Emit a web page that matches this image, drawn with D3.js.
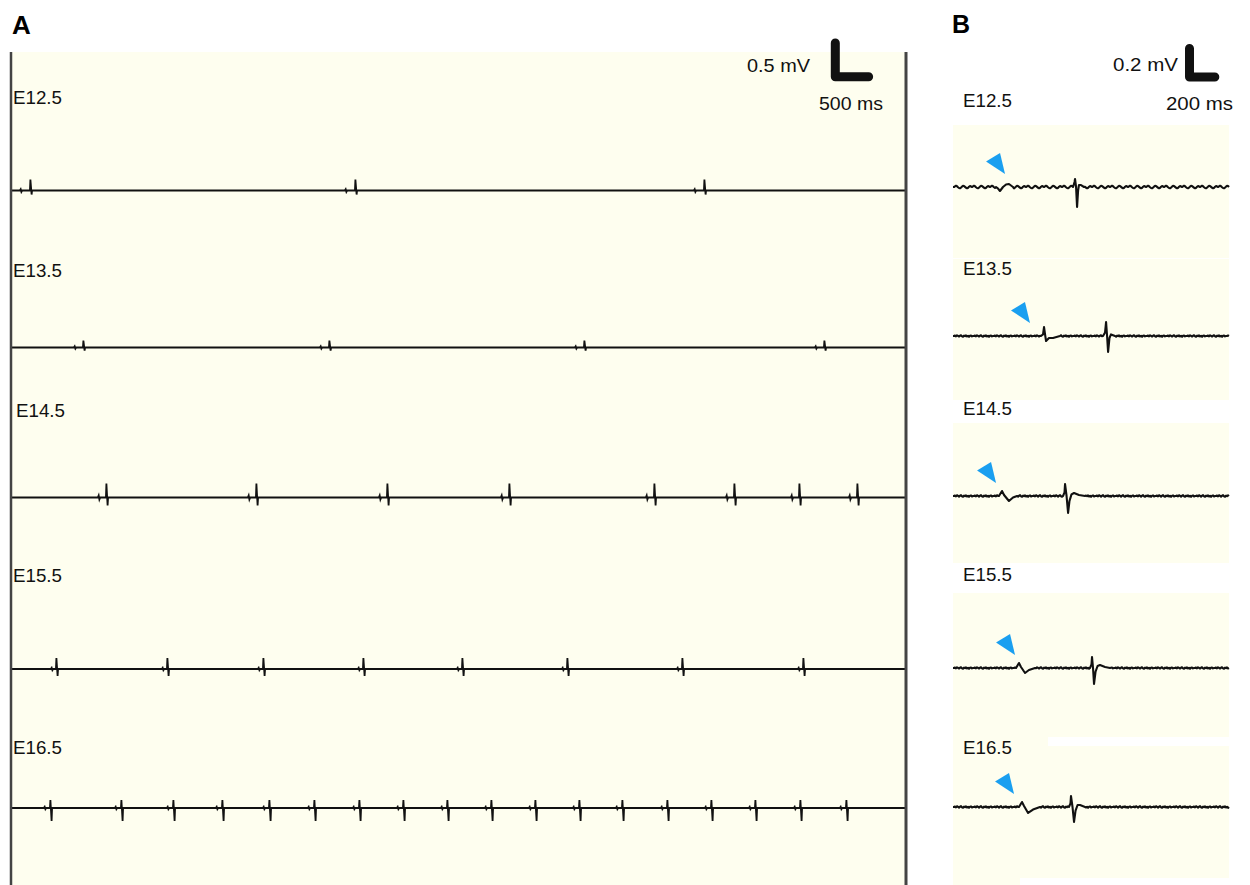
<!DOCTYPE html>
<html>
<head>
<meta charset="utf-8">
<script src="https://cdn.jsdelivr.net/npm/d3@7"></script>
<style>
  body { margin: 0; background: #fff; }
  svg { display: block; font-family: "Liberation Sans", Arial, sans-serif; }
</style>
</head>
<body>
<div id="chart"></div>
<script>
// one ECG strip per embryonic stage
const stages = ['E12.5', 'E13.5', 'E14.5', 'E15.5', 'E16.5'];

// panel A: QRS spike times (ms) along the long strips
const beatsA = [
  [300, 5175, 10410],
  [1095, 4785, 8610, 12210],
  [1440, 3690, 5655, 7485, 9660, 10860, 11835, 12705],
  [690, 2355, 3795, 5295, 6780, 8355, 10080, 11895],
  [600, 1665, 2445, 3180, 3885, 4560, 5235, 5895, 6555, 7215, 7875, 8535, 9180, 9855, 10515, 11175, 11850, 12540]
];
const spikeUpA = [0.163, 0.104, 0.208, 0.163, 0.119];   // mV
const spikeDownA = [0.06, 0.045, 0.119, 0.104, 0.193];  // mV
const pWaveA = [0.02, 0.018, 0.03, 0.018, 0.018];       // mV
const pLeadA = [150, 135, 120, 75, 90];                 // ms before the spike
const spanA = 13425;                                    // ms shown in panel A

// panel B: one beat per stage, [ms, mV] key points
const traceB = [
  [[0, 0], [340, 0], [356, -0.011], [371, -0.028], [395, 0], [419, 0.018], [442, 0.021], [474, 0],
   [948, 0], [960, 0.035], [964, 0.056], [972, 0], [980, -0.14], [988, -0.025], [995, 0.014], [1011, 0.014], [1035, 0], [2180, 0]],
  [[0, 0], [695, 0], [711, 0.011], [719, 0.063], [727, 0.011], [735, -0.035], [758, -0.014], [790, -0.014], [845, 0],
   [1185, 0], [1201, 0.025], [1209, 0.098], [1217, 0], [1225, -0.112], [1236, -0.014], [1248, 0.011], [1280, 0], [2180, 0]],
  [[0, 0], [363, 0], [387, 0.035], [403, 0.007], [442, -0.035], [474, -0.011], [506, 0],
   [869, 0], [881, 0.025], [885, 0.084], [897, 0], [909, -0.119], [920, -0.035], [936, 0.011], [956, 0.021], [995, 0.007], [1043, 0], [2180, 0]],
  [[0, 0], [498, 0], [521, 0.035], [537, 0.007], [569, -0.035], [600, -0.014], [648, 0],
   [1082, 0], [1094, 0.025], [1098, 0.077], [1106, 0], [1114, -0.112], [1126, -0.025], [1142, 0.014], [1161, 0.021], [1201, 0.007], [1240, 0], [2180, 0]],
  [[0, 0], [521, 0], [545, 0.035], [561, 0.007], [593, -0.042], [632, -0.018], [687, 0],
   [916, 0], [928, 0.025], [932, 0.077], [944, 0], [956, -0.105], [968, -0.025], [984, 0.014], [1003, 0.014], [1043, 0], [2180, 0]]
];
const arrowB = [411, 608, 340, 490, 482];            // ms, where the blue arrowheads point (P wave)
const rippleB = [0, 0.5, 1, 0.6, -0.2, -0.8, -1, -0.5, 0.3, 0.9, 0.8, 0.1, -0.6, -1, -0.7, 0.2, 0.8, 0.4];
const jitterB = [0, 0.6, -0.4, 0.9, 0.1, -0.7, 0.3, 1, -0.3, -0.9, 0.5, -0.2, 0.8, -0.6, 0.2, -1, 0.4, 0.7, -0.5, 0];
const noiseB = [0.009, 0.0055, 0.006, 0.0055, 0.006]; // mV baseline noise per trace
const spanB = 2180;                                   // ms shown in panel B

// layout
const W = 1250, H = 885;
const cream = '#fefeef';
const ink = '#111';
const frameA = { x0: 11, x1: 906, y0: 52, y1: 885 };
const rowYA = [190.5, 347.5, 497.5, 669, 808];
const labelYA = [104, 277, 417, 582, 754];
const labelXA = [13, 13, 16, 13, 13];
const boxB = { x0: 953, x1: 1229 };
const stripsB = [[125, 258], [259, 400], [423, 563], [593, 740], [740, 885]];
const rowYB = [187, 336, 496, 668, 807];
const labelYB = [107, 275, 415, 581, 754];

const svg = d3.select('#chart').append('svg')
  .attr('width', W)
  .attr('height', H)
  .attr('viewBox', `0 0 ${W} ${H}`);

// scales
const xA = d3.scaleLinear().domain([0, spanA]).range([frameA.x0, frameA.x1]);
const yA = d3.scaleLinear().domain([-0.5, 0.5]).range([33.7, -33.7]);
const xB = d3.scaleLinear().domain([0, spanB]).range([boxB.x0, boxB.x1]);
const yB = d3.scaleLinear().domain([-0.2, 0.2]).range([28.5, -28.5]);

// ---------- panel A ----------
svg.append('rect')
  .attr('x', frameA.x0).attr('y', frameA.y0)
  .attr('width', frameA.x1 - frameA.x0).attr('height', frameA.y1 - frameA.y0)
  .attr('fill', cream);

const beatPoints = (i) => {
  const pts = [[0, 0]];
  const lead = pLeadA[i], p = pWaveA[i];
  beatsA[i].forEach(t => {
    pts.push([t - lead - 18, 0], [t - lead - 5, p], [t - lead + 6, -p], [t - lead + 18, 0]);
    pts.push([t - 16, 0], [t - 9, spikeUpA[i]], [t + 9, -spikeDownA[i]], [t + 16, 0]);
  });
  pts.push([spanA, 0]);
  return pts;
};

const lineA = d3.line().x(d => xA(d[0])).y(d => yA(d[1]));

stages.forEach((s, i) => {
  const g = svg.append('g').attr('transform', `translate(0, ${rowYA[i]})`);
  g.append('path')
    .attr('d', lineA(beatPoints(i)))
    .attr('fill', 'none')
    .attr('stroke', ink)
    .attr('stroke-width', 1.8);

  svg.append('text')
    .attr('x', labelXA[i]).attr('y', labelYA[i])
    .attr('font-size', 18)
    .attr('textLength', 49).attr('lengthAdjust', 'spacingAndGlyphs')
    .attr('fill', ink)
    .text(s);
});

svg.append('line')
  .attr('x1', frameA.x0).attr('x2', frameA.x0)
  .attr('y1', frameA.y0).attr('y2', frameA.y1)
  .attr('stroke', '#444').attr('stroke-width', 2.5);
svg.append('line')
  .attr('x1', frameA.x1).attr('x2', frameA.x1)
  .attr('y1', frameA.y0).attr('y2', frameA.y1)
  .attr('stroke', '#444').attr('stroke-width', 3);

// scale bar helper: vertical mV leg + horizontal ms leg from one corner
const scaleBar = (cx, cy, xs, ys, mv, ms) => {
  const h = ys(0) - ys(mv);
  const w = xs(ms) - xs(0);
  svg.append('path')
    .attr('d', `M${cx},${cy - h}L${cx},${cy}L${cx + w},${cy}`)
    .attr('fill', 'none')
    .attr('stroke', ink)
    .attr('stroke-width', 9)
    .attr('stroke-linecap', 'round')
    .attr('stroke-linejoin', 'round');
};

scaleBar(835.3, 76.7, xA, yA, 0.5, 500);
svg.append('text').attr('x', 747).attr('y', 72).attr('font-size', 18)
  .attr('textLength', 63).attr('lengthAdjust', 'spacingAndGlyphs').attr('fill', ink).text('0.5 mV');
svg.append('text').attr('x', 819).attr('y', 110).attr('font-size', 18)
  .attr('textLength', 64).attr('lengthAdjust', 'spacingAndGlyphs').attr('fill', ink).text('500 ms');

svg.append('text').attr('x', 12).attr('y', 34)
  .attr('font-size', 26).attr('font-weight', 'bold').attr('fill', '#000').text('A');

// ---------- panel B ----------
stripsB.forEach(([y0, y1]) => {
  svg.append('rect')
    .attr('x', boxB.x0).attr('y', y0)
    .attr('width', boxB.x1 - boxB.x0).attr('height', y1 - y0)
    .attr('fill', cream);
});
// white gaps the original cut-outs left in the last two strips
svg.append('rect').attr('x', 1048).attr('y', 737).attr('width', boxB.x1 - 1048).attr('height', 9).attr('fill', '#fff');
svg.append('rect').attr('x', 1020).attr('y', 878).attr('width', boxB.x1 - 1020).attr('height', 7).attr('fill', '#fff');

const stepB = xB.invert(boxB.x0 + 1) - xB.invert(boxB.x0); // one pixel of time
const lineB = d3.line().x(d => xB(d[0])).y(d => yB(d[1]));

const withNoise = (pts, i) => {
  const pattern = i === 0 ? rippleB : jitterB;
  const out = [];
  let k = 0;
  pts.forEach((d, j) => {
    out.push(d);
    const nxt = pts[j + 1];
    if (nxt && d[1] === 0 && nxt[1] === 0) {
      for (let t = d[0] + stepB; t < nxt[0] - stepB / 2; t += stepB) {
        out.push([t, pattern[k % pattern.length] * noiseB[i]]);
        k++;
      }
    }
  });
  return out;
};

stages.forEach((s, i) => {
  const g = svg.append('g').attr('transform', `translate(0, ${rowYB[i]})`);
  g.append('path')
    .attr('d', lineB(withNoise(traceB[i], i)))
    .attr('fill', 'none')
    .attr('stroke', ink)
    .attr('stroke-width', 2.1)
    .attr('stroke-linejoin', 'round');

  const tx = xB(arrowB[i]), ty = -13;
  g.append('path')
    .attr('d', `M${tx},${ty}L${tx - 19},${ty - 12.5}L${tx - 5},${ty - 21}Z`)
    .attr('fill', '#1a9ff0');

  svg.append('text')
    .attr('x', 963).attr('y', labelYB[i])
    .attr('font-size', 18)
    .attr('textLength', 49).attr('lengthAdjust', 'spacingAndGlyphs')
    .attr('fill', ink)
    .text(s);
});

scaleBar(1189.5, 77, xB, yB, 0.2, 200);
svg.append('text').attr('x', 1113).attr('y', 71).attr('font-size', 18)
  .attr('textLength', 65).attr('lengthAdjust', 'spacingAndGlyphs').attr('fill', ink).text('0.2 mV');
svg.append('text').attr('x', 1166).attr('y', 110).attr('font-size', 18)
  .attr('textLength', 67).attr('lengthAdjust', 'spacingAndGlyphs').attr('fill', ink).text('200 ms');

svg.append('text').attr('x', 952).attr('y', 33)
  .attr('font-size', 25).attr('font-weight', 'bold').attr('fill', '#000').text('B');
</script>
</body>
</html>
